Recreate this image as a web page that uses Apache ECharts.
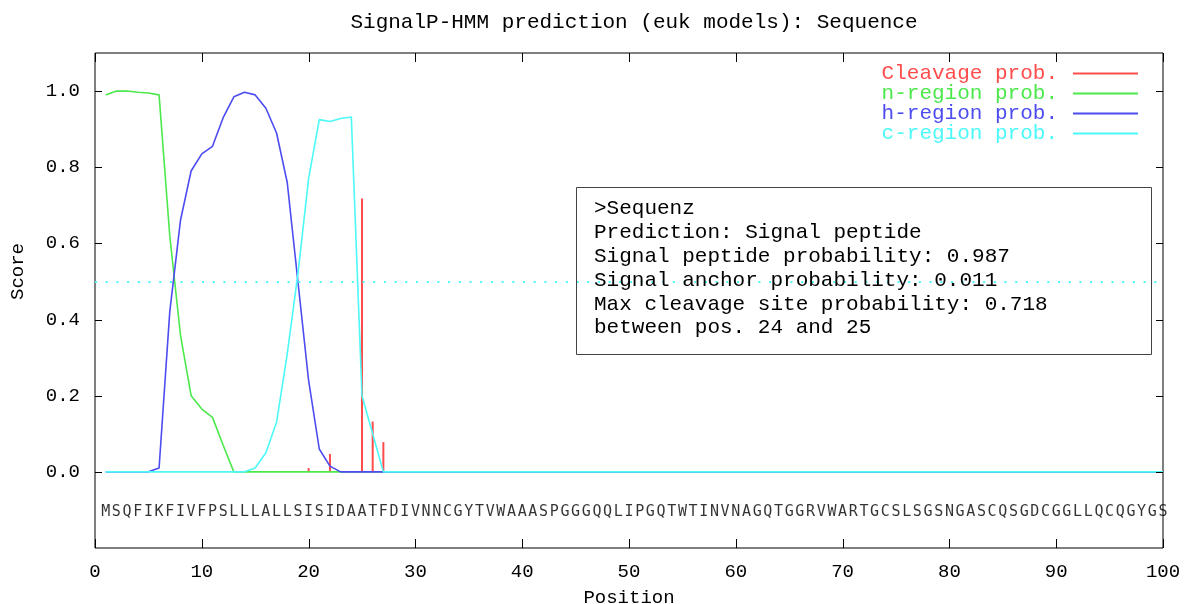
<!DOCTYPE html>
<html>
<head>
<meta charset="utf-8">
<script src="https://cdn.jsdelivr.net/npm/echarts@6/dist/echarts.min.js"></script>
<style>
html, body { margin: 0; padding: 0; background: #fff; }
#main { width: 1184px; height: 604px; }
</style>
</head>
<body>
<div id="main"></div>
<script>
// sequence, one residue per position 1..100
var sequence = 'MSQFIKFIVFPSLLLALLSISIDAATFDIVNNCGYTVWAAASPGGGQQLIPGQTWTINVNAGQTGGRVWARTGCSLSGSNGASCQSGDCGGLLQCQGYGS';

var cleavage = [
    0, 0, 0, 0, 0, 0, 0, 0, 0, 0,
    0, 0, 0, 0, 0, 0, 0, 0, 0, 0.01,
    0, 0.047, 0, 0, 0.718, 0.132, 0.078, 0, 0, 0,
    0, 0, 0, 0, 0, 0, 0, 0, 0, 0,
    0, 0, 0, 0, 0, 0, 0, 0, 0, 0,
    0, 0, 0, 0, 0, 0, 0, 0, 0, 0,
    0, 0, 0, 0, 0, 0, 0, 0, 0, 0,
    0, 0, 0, 0, 0, 0, 0, 0, 0, 0,
    0, 0, 0, 0, 0, 0, 0, 0, 0, 0,
    0, 0, 0, 0, 0, 0, 0, 0, 0, 0
];
var nRegion = [
    0.99, 1.0, 1.0, 0.997, 0.995, 0.99, 0.62, 0.36, 0.2, 0.165,
    0.143, 0.07, 0, 0, 0, 0, 0, 0, 0, 0,
    0, 0, 0, 0, 0, 0, 0, 0, 0, 0,
    0, 0, 0, 0, 0, 0, 0, 0, 0, 0,
    0, 0, 0, 0, 0, 0, 0, 0, 0, 0,
    0, 0, 0, 0, 0, 0, 0, 0, 0, 0,
    0, 0, 0, 0, 0, 0, 0, 0, 0, 0,
    0, 0, 0, 0, 0, 0, 0, 0, 0, 0,
    0, 0, 0, 0, 0, 0, 0, 0, 0, 0,
    0, 0, 0, 0, 0, 0, 0, 0, 0, 0
];
var hRegion = [
    0, 0, 0, 0, 0, 0.01, 0.42, 0.66, 0.79, 0.835,
    0.855, 0.93, 0.985, 0.997, 0.99, 0.955, 0.89, 0.76, 0.5, 0.24,
    0.06, 0.015, 0, 0, 0, 0, 0, 0, 0, 0,
    0, 0, 0, 0, 0, 0, 0, 0, 0, 0,
    0, 0, 0, 0, 0, 0, 0, 0, 0, 0,
    0, 0, 0, 0, 0, 0, 0, 0, 0, 0,
    0, 0, 0, 0, 0, 0, 0, 0, 0, 0,
    0, 0, 0, 0, 0, 0, 0, 0, 0, 0,
    0, 0, 0, 0, 0, 0, 0, 0, 0, 0,
    0, 0, 0, 0, 0, 0, 0, 0, 0, 0
];
var cRegion = [
    0, 0, 0, 0, 0, 0, 0, 0, 0, 0,
    0, 0, 0, 0, 0.01, 0.05, 0.13, 0.31, 0.52, 0.77,
    0.925, 0.92, 0.928, 0.932, 0.2, 0.1, 0, 0, 0, 0,
    0, 0, 0, 0, 0, 0, 0, 0, 0, 0,
    0, 0, 0, 0, 0, 0, 0, 0, 0, 0,
    0, 0, 0, 0, 0, 0, 0, 0, 0, 0,
    0, 0, 0, 0, 0, 0, 0, 0, 0, 0,
    0, 0, 0, 0, 0, 0, 0, 0, 0, 0,
    0, 0, 0, 0, 0, 0, 0, 0, 0, 0,
    0, 0, 0, 0, 0, 0, 0, 0, 0, 0
];
var threshold = 0.5;
var sequenceRow = -0.105;

// tick positions (gnuplot style, mirrored on all four sides)
var xTicks = [0, 10, 20, 30, 40, 50, 60, 70, 80, 90, 100];
var yTicks = [0, 0.2, 0.4, 0.6, 0.8, 1.0];

var infoLines = [
    '>Sequenz',
    'Prediction: Signal peptide',
    'Signal peptide probability: 0.987',
    'Signal anchor probability: 0.011',
    'Max cleavage site probability: 0.718',
    'between pos. 24 and 25'
];

var names = ['Cleavage prob.', 'n-region prob.', 'h-region prob.', 'c-region prob.'];
var colors = ['#ff4c4c', '#4ce84c', '#4c4cf0', '#4cf8f8'];

function toPoints(arr) {
    return arr.map(function (v, i) { return [i + 1, v]; });
}

var mono = 'Liberation Mono';

// ticks drawn by hand: axisTick would not show up in this chart
var tickData = xTicks.map(function (v) { return [0, v]; })
    .concat(yTicks.map(function (v) { return [1, v]; }));

function renderTick(params, api) {
    var cs = params.coordSys;
    var kind = api.value(0);
    var v = api.value(1);
    var st = { stroke: '#000', lineWidth: 1 };
    if (kind === 0) {
        var px = Math.round(api.coord([v, 0])[0]) + 0.5;
        var bottom = cs.y + cs.height;
        return { type: 'group', children: [
            { type: 'line', shape: { x1: px, y1: bottom, x2: px, y2: bottom - 9 }, style: st },
            { type: 'line', shape: { x1: px, y1: cs.y, x2: px, y2: cs.y + 9 }, style: st }
        ] };
    }
    var py = Math.round(api.coord([0, v])[1]) + 0.5;
    var right = cs.x + cs.width;
    return { type: 'group', children: [
        { type: 'line', shape: { x1: cs.x, y1: py, x2: cs.x + 7, y2: py }, style: st },
        { type: 'line', shape: { x1: right, y1: py, x2: right - 7, y2: py }, style: st }
    ] };
}

var chart = echarts.init(document.getElementById('main'));

var option = {
    animation: false,
    backgroundColor: '#fff',
    title: {
        text: 'SignalP-HMM prediction (euk models): Sequence',
        left: 629,
        textAlign: 'center',
        top: 7,
        textStyle: { fontFamily: mono, fontSize: 21, fontWeight: 'normal', color: '#000' }
    },
    legend: {
        orient: 'vertical',
        right: 41,
        top: 58,
        align: 'right',
        icon: 'rect',
        itemWidth: 65,
        itemHeight: 2,
        itemGap: -1,
        selectedMode: false,
        textStyle: { fontFamily: mono, fontSize: 21, lineHeight: 20, padding: [0, 10, 0, 0] },
        data: names.map(function (n, i) {
            return { name: n, itemStyle: { color: colors[i] }, textStyle: { color: colors[i] } };
        })
    },
    grid: {
        left: 95, right: 21, top: 53, bottom: 56,
        outerBoundsMode: 'none',
        show: true, borderColor: '#000', borderWidth: 1
    },
    xAxis: {
        type: 'value', min: 0, max: 100, interval: 10,
        name: 'Position', nameLocation: 'middle', nameGap: 40,
        nameTextStyle: { fontFamily: mono, fontSize: 19, color: '#000' },
        axisLine: { show: false, onZero: false },
        axisTick: { show: false },
        axisLabel: { fontFamily: mono, fontSize: 19, color: '#000', margin: 14 },
        splitLine: { show: false }
    },
    yAxis: {
        type: 'value', min: -0.2, max: 1.1, interval: 0.2,
        axisLine: { show: false, onZero: false },
        axisTick: { show: false },
        axisLabel: {
            fontFamily: mono, fontSize: 19, color: '#000', margin: 15,
            formatter: function (v) { return (v < -0.01 || v > 1.01) ? '' : v.toFixed(1); }
        },
        splitLine: { show: false }
    },
    graphic: [{
        type: 'text', left: 8, top: 243, rotation: Math.PI / 2,
        style: { text: 'Score', fontFamily: mono, fontSize: 19, fill: '#000' }
    }, {
        type: 'rect', left: 574, top: 185, z: 10,
        shape: { width: 575, height: 167 },
        style: { fill: 'none', stroke: '#444', lineWidth: 1 }
    }, {
        type: 'text', left: 594, top: 197, z: 11,
        style: { text: infoLines.join('\n'), fontFamily: mono, fontSize: 21, lineHeight: 23.8, fill: '#000' }
    }],
    series: [{
        name: 'ticks', type: 'custom', silent: true, clip: false, z: 6,
        renderItem: renderTick,
        encode: { x: -1, y: -1 },
        data: tickData
    }, {
        name: names[0], type: 'bar', barWidth: 2,
        itemStyle: { color: colors[0] },
        data: toPoints(cleavage)
    }, {
        name: names[1], type: 'line', symbol: 'none',
        lineStyle: { color: colors[1], width: 1.6 }, itemStyle: { color: colors[1] },
        data: toPoints(nRegion)
    }, {
        name: names[2], type: 'line', symbol: 'none',
        lineStyle: { color: colors[2], width: 1.6 }, itemStyle: { color: colors[2] },
        data: toPoints(hRegion)
    }, {
        name: names[3], type: 'line', symbol: 'none',
        lineStyle: { color: colors[3], width: 1.6 }, itemStyle: { color: colors[3] },
        data: toPoints(cRegion),
        markLine: {
            silent: true, symbol: ['none', 'none'], label: { show: false },
            lineStyle: { color: colors[3], width: 2, type: [2, 8.7] },
            data: [{ yAxis: threshold }]
        }
    }, {
        name: 'sequence', type: 'scatter', symbolSize: 1, silent: true,
        itemStyle: { color: 'rgba(0,0,0,0)' },
        label: {
            show: true, position: 'inside', color: '#000',
            fontFamily: 'DejaVu Sans Mono', fontSize: 15,
            formatter: function (p) { return sequence.charAt(p.dataIndex); }
        },
        data: sequence.split('').map(function (ch, i) { return [i + 1, sequenceRow]; })
    }]
};

if (option && typeof option === "object") {
    chart.setOption(option, true);
}
window.onresize = function () { chart.resize(); };
</script>
</body>
</html>
